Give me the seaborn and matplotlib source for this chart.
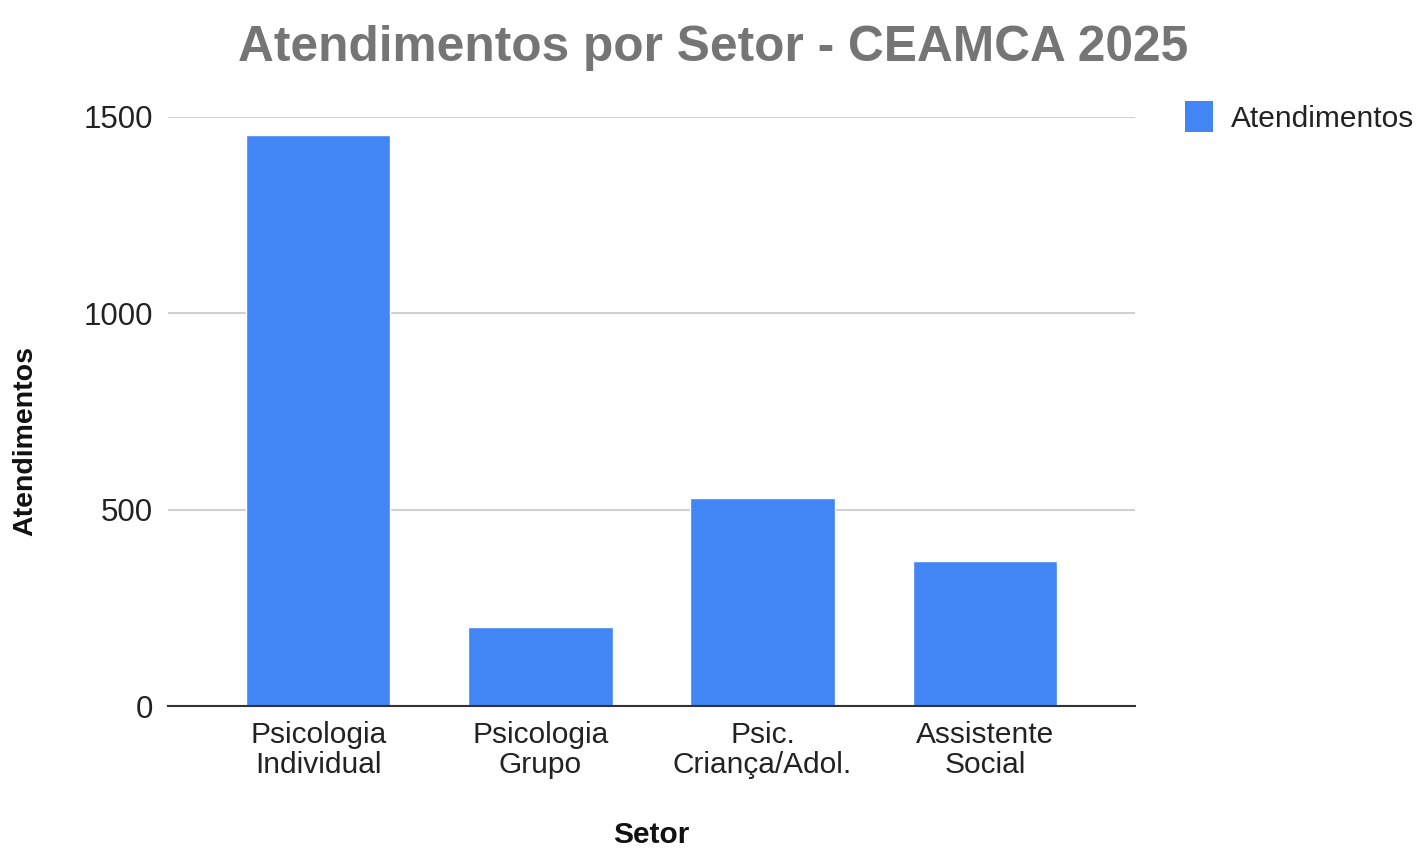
import pandas as pd
import seaborn as sns
import matplotlib
matplotlib.use("Agg")
import matplotlib.pyplot as plt
from matplotlib.patches import Patch

setores = ["Psicologia\nIndividual", "Psicologia\nGrupo", "Psic.\nCriança/Adol.", "Assistente\nSocial"]
atendimentos = [1455, 200, 530, 370]
yticks = [0, 500, 1000, 1500]

df = pd.DataFrame({"Setor": setores, "Atendimentos": atendimentos})

sns.set_style("white")
plt.rcParams['font.family'] = ['Liberation Sans', 'DejaVu Sans']

fig = plt.figure(figsize=(14.19, 8.48), dpi=100)
ax = fig.add_axes([168 / 1419, 1 - 706 / 848, (1135 - 168) / 1419, (706 - 117) / 848])

sns.barplot(data=df, x="Setor", y="Atendimentos", color="#4285F4", width=0.65,
            saturation=1, ax=ax, zorder=3)

ax.set_ylim(0, 1500)
ax.set_xlim(-0.676, 3.676)
ax.set_yticks(yticks)
ax.set_yticklabels([str(v) for v in yticks], fontsize=22.5, color="#222222")
ax.tick_params(axis="x", labelsize=21.5, labelcolor="#222222", length=0, pad=11)
ax.tick_params(axis="y", length=0, pad=11)
for lab in ax.get_xticklabels():
    lab.set_linespacing(1.06)
ax.yaxis.grid(True, color="#d0d0d0", linewidth=1.5, zorder=0)
ax.set_axisbelow(True)
for s in ["left", "right", "top"]:
    ax.spines[s].set_visible(False)
ax.spines["bottom"].set_color("#333333")
ax.spines["bottom"].set_linewidth(1.5)
ax.spines["bottom"].set_zorder(4)

ax.set_xlabel("Setor", fontsize=21.5, fontweight="bold", color="#111111")
ax.set_ylabel("Atendimentos", fontsize=20.5, fontweight="bold", color="#111111")
ax.xaxis.set_label_coords((651 - 168) / 967, (706 - 821) / 589)
ax.yaxis.set_label_coords((38 - 168) / 967, (706 - 441) / 589)

fig.text(713 / 1419, 1 - 48 / 848, "Atendimentos por Setor - CEAMCA 2025", ha="center", va="center",
         fontsize=35.75, fontweight="bold", color="#757575")

handles = [Patch(facecolor="#4285F4", edgecolor="none", label="Atendimentos")]
fig.legend(handles=handles, loc="upper left", bbox_to_anchor=(1158 / 1419, 1 - 74 / 848),
           frameon=False, fontsize=21.5, handlelength=0.95, handleheight=1.25, handletextpad=0.6,
           labelcolor="#222222")

fig.savefig("out.png", dpi=100)
